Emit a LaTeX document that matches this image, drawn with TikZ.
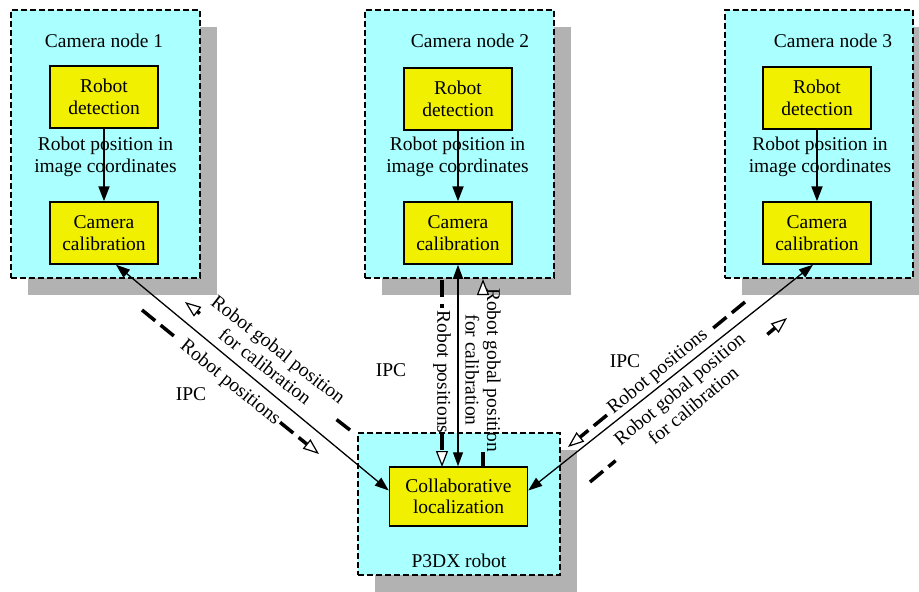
\documentclass[tikz,border=0pt]{standalone}
\usepackage{fontspec}
\setmainfont{Liberation Serif}
\usetikzlibrary{arrows.meta,calc,shadows}
\definecolor{boxcyan}{RGB}{170,255,255}
\definecolor{boxyellow}{RGB}{240,240,0}
\definecolor{shadowgray}{RGB}{178,178,178}
\begin{document}
\begin{tikzpicture}[x=1pt,y=-1pt,
  every node/.style={font=\fontsize{19.5}{21.5}\selectfont, align=center},
  container/.style={draw, fill=boxcyan, line width=2pt, dash pattern=on 6pt off 3pt,
    inner sep=0pt,
    drop shadow={shadow xshift=17pt, shadow yshift=-17pt, fill=shadowgray, opacity=1}},
  proc/.style={draw, fill=boxyellow, line width=1.5pt, minimum width=108pt,
    minimum height=62pt, inner sep=0pt},
  flow/.style={line width=2pt, -{Triangle[length=15pt,width=11pt]}},
  dbl/.style={line width=1.3pt, {Triangle[length=14pt,width=10pt]}-{Triangle[length=14pt,width=10pt]}},
  ipcline/.style={line width=3.5pt, dash pattern=on 17pt off 7pt},
  ipctip/.style={-{Triangle[length=16pt,width=12pt,fill=white,line width=1.2pt]}}]
\useasboundingbox (0,0) rectangle (919,592);

% enclosing units with their drop shadows
\node[container, minimum width=189pt, minimum height=268pt] (cam1) at (105.5,144) {};
\node[container, minimum width=189pt, minimum height=268pt] (cam2) at (459.5,144) {};
\node[container, minimum width=188pt, minimum height=268pt] (cam3) at (819,144) {};
\node[container, minimum width=202pt, minimum height=142pt] (robot) at (459,504) {};

% unit titles
\node (t1) at (104,41) {Camera node 1};
\node (t2) at (470,41) {Camera node 2};
\node (t3) at (833,41) {Camera node 3};
\node (t4) at (459,561) {P3DX robot};

% processing blocks
\node[proc] (det1) at (104,97) {Robot\\detection};
\node[proc] (det2) at (458,99) {Robot\\detection};
\node[proc] (det3) at (817,98) {Robot\\detection};
\node[proc] (cal1) at (104,233) {Camera\\calibration};
\node[proc] (cal2) at (458,233) {Camera\\calibration};
\node[proc] (cal3) at (817,233) {Camera\\calibration};
\node[proc, minimum width=138pt, minimum height=59pt] (loc) at (458.5,496.5) {Collaborative\\localization};

% flow inside each camera node
\node (im1) at (105.5,157) {Robot position in\\image coordinates};
\node (im2) at (457.5,157) {Robot position in\\image coordinates};
\node (im3) at (820,157) {Robot position in\\image coordinates};
\draw[flow] (det1) -- (cal1);
\draw[flow] (det2) -- (cal2);
\draw[flow] (det3) -- (cal3);

% IPC links between the cameras and the robot
\draw[dbl] ([xshift=12pt]cal1.south) -- ([yshift=6pt]loc.west);
\draw[dbl] (cal2.south) -- (cal2.south |- loc.north);
\draw[dbl] ([xshift=-4pt]cal3.south) -- ([yshift=6pt]loc.east);

\node (ipc1) at (191,394) {IPC};
\node (ipc2) at (391,370) {IPC};
\node (ipc3) at (625,361) {IPC};

% message flows: robot positions (camera -> robot)
\coordinate (LpT) at (142,310);  \coordinate (LpH) at (319,454);
\coordinate (MpT) at (442,280);  \coordinate (MpH) at (442,467);
\coordinate (RpT) at (745,302);  \coordinate (RpH) at (568,447);
\draw[ipcline] (LpT) -- ($(LpT)!0.19!(LpH)$);
\draw[ipcline, ipctip] ($(LpT)!0.78!(LpH)$) -- (LpH);
\draw[ipcline] (MpT) -- ($(MpT)!0.15!(MpH)$);
\draw[ipcline, ipctip] ($(MpT)!0.82!(MpH)$) -- (MpH);
\draw[ipcline] (RpT) -- ($(RpT)!0.2!(RpH)$);
\draw[ipcline, ipctip] ($(RpT)!0.78!(RpH)$) -- (RpH);
\node[rotate=-39.1] (lp) at (230,383) {Robot positions};
\node[rotate=-90] (mp) at (442,372) {Robot positions};
\node[rotate=39.3] (rp) at (658,372) {Robot positions};

% message flows: global position for calibration (robot -> camera)
\coordinate (LgT) at (350,430);  \coordinate (LgH) at (185,302);
\coordinate (MgT) at (483,466);  \coordinate (MgH) at (483,279);
\coordinate (RgT) at (590,482);  \coordinate (RgH) at (787,318);
\draw[ipcline] (LgT) -- ($(LgT)!0.1!(LgH)$);
\draw[ipcline, ipctip] ($(LgT)!0.91!(LgH)$) -- (LgH);
\draw[ipcline] (MgT) -- ($(MgT)!0.075!(MgH)$);
\draw[ipcline, ipctip] ($(MgT)!0.93!(MgH)$) -- (MgH);
\draw[ipcline] (RgT) -- ($(RgT)!0.13!(RgH)$);
\draw[ipcline, ipctip] ($(RgT)!0.9!(RgH)$) -- (RgH);
\node[rotate=-37.8] (lg) at (272,358) {Robot gobal position\\for calibration};
\node[rotate=-90] (mg) at (483,370) {Robot gobal position\\for calibration};
\node[rotate=39.8] (rg) at (686,397) {Robot gobal position\\for calibration};
\end{tikzpicture}
\end{document}
